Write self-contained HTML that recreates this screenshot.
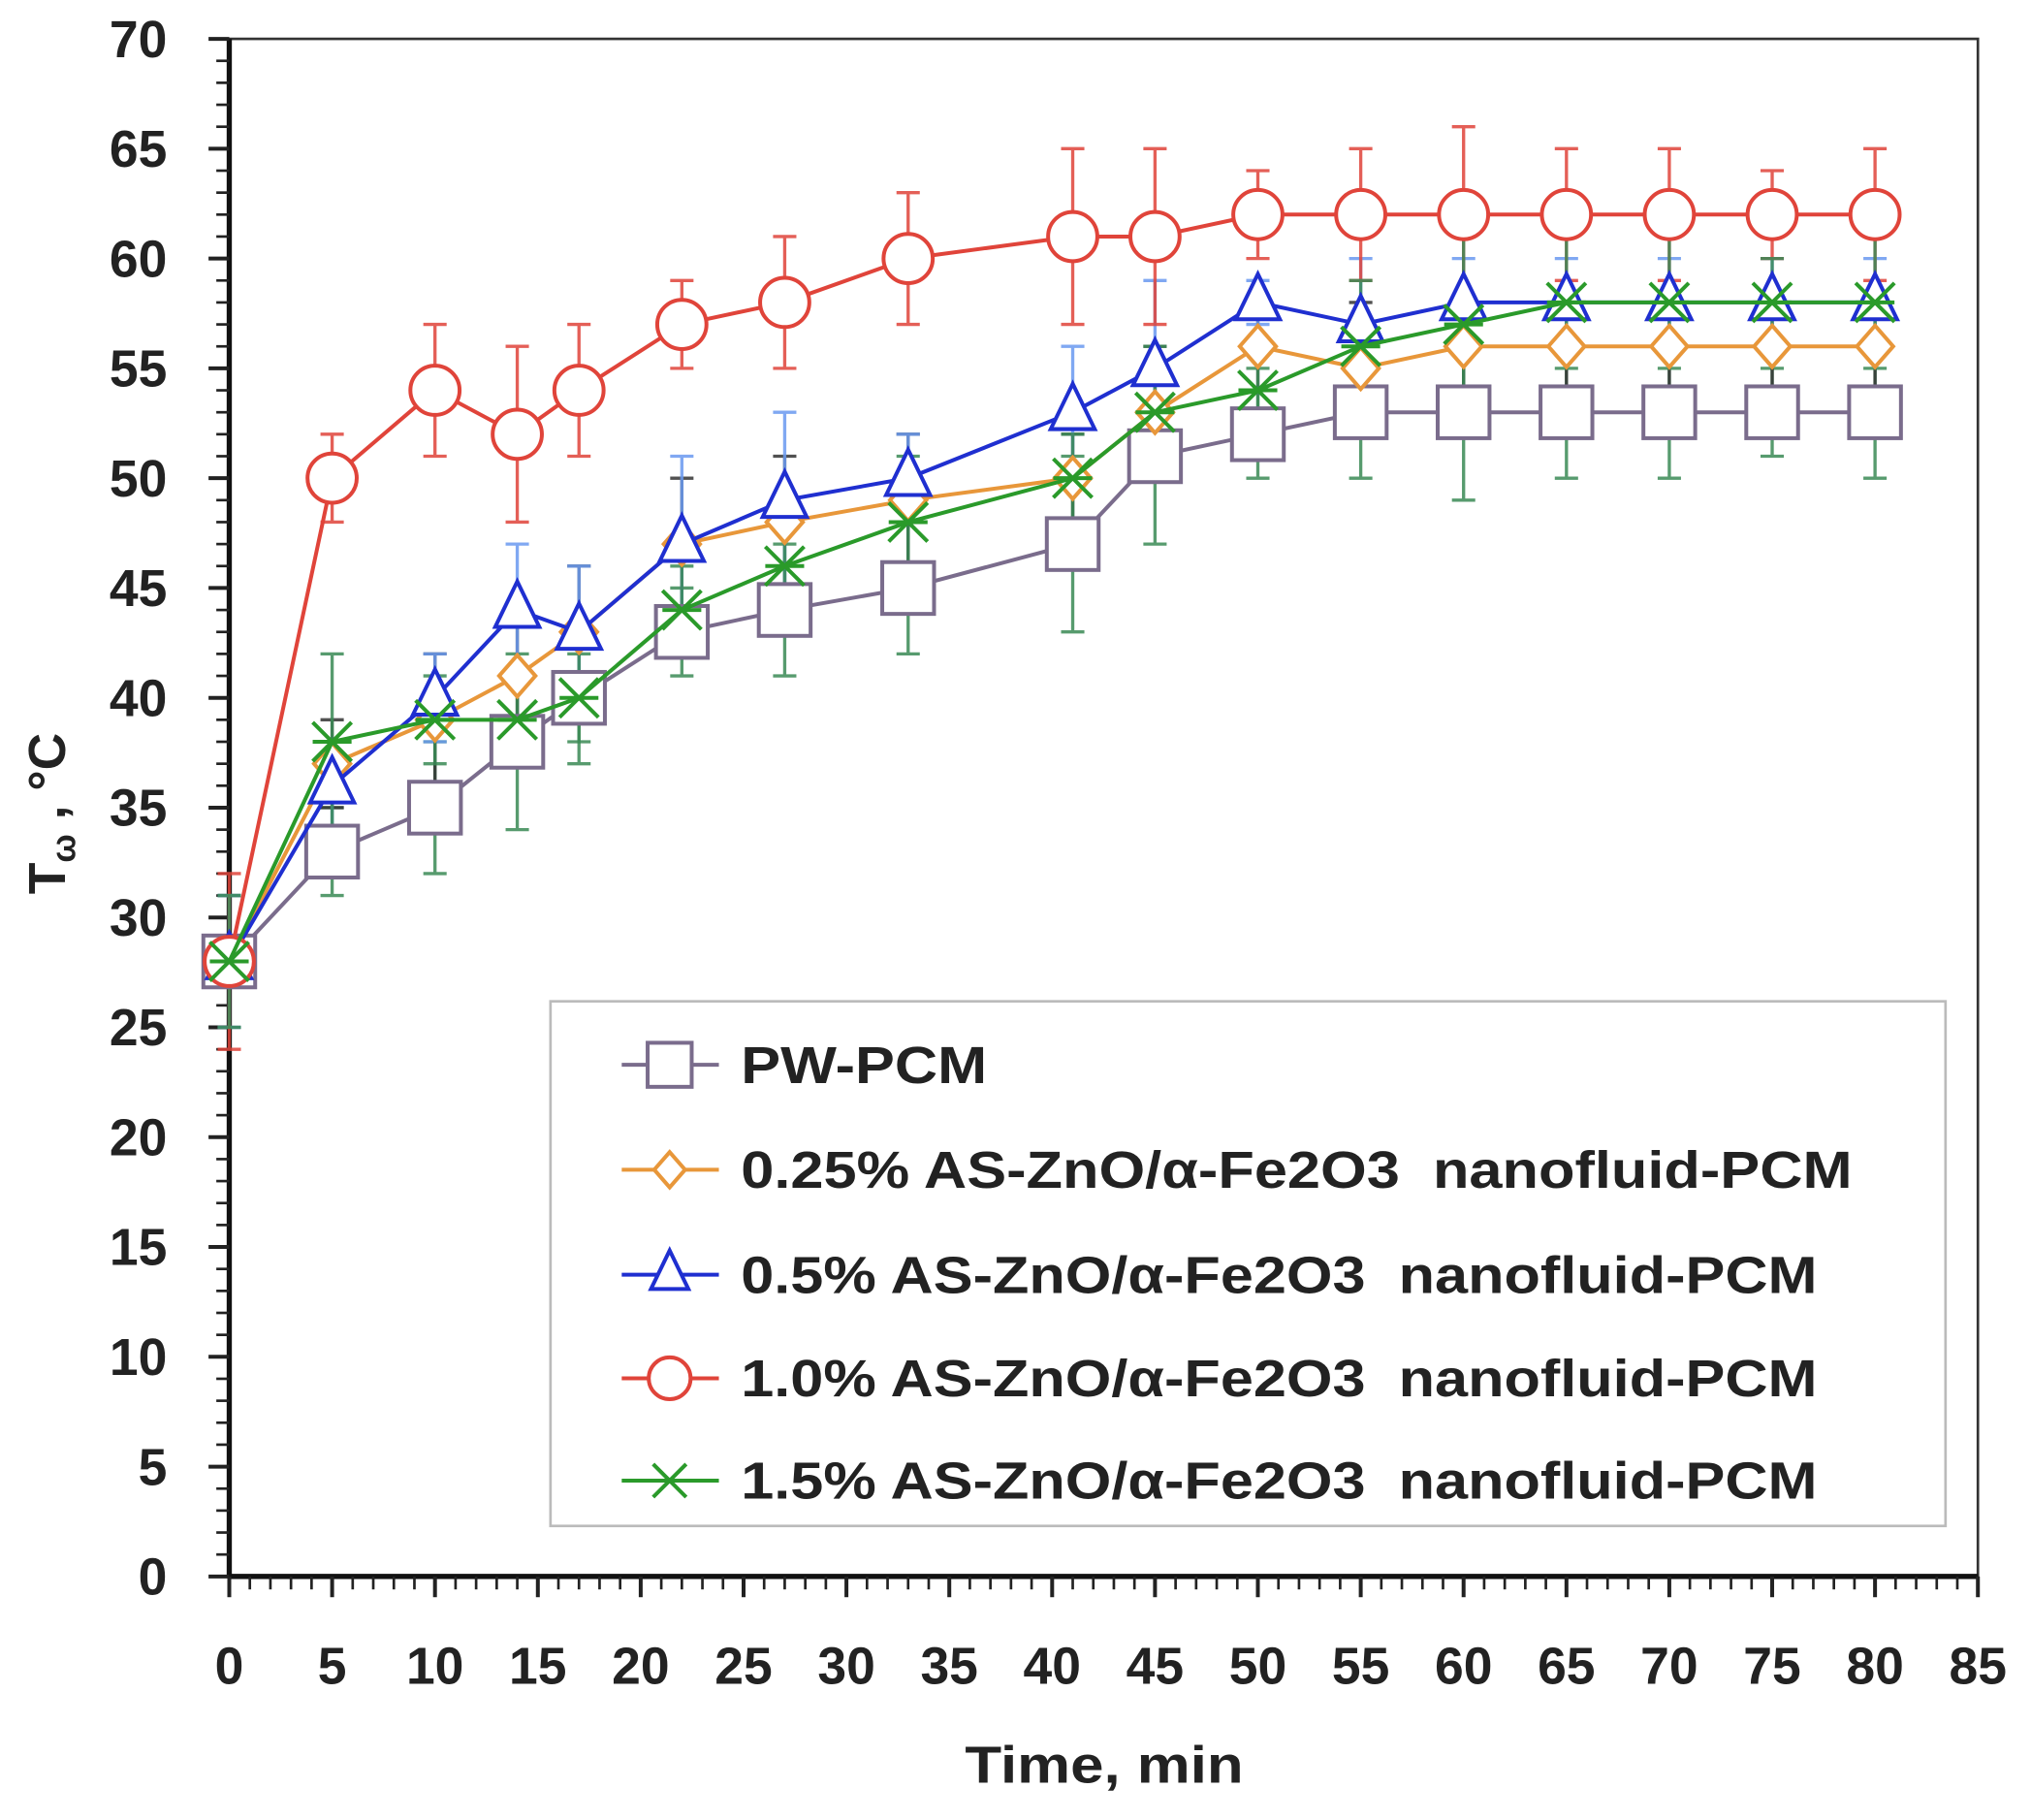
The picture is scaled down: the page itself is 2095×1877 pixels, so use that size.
<!DOCTYPE html>
<html><head><meta charset="utf-8"><style>
html,body{margin:0;padding:0;background:#fff;}
svg{display:block;}
text{font-family:"Liberation Sans","DejaVu Sans",sans-serif;font-weight:bold;fill:#222;}
</style></head><body>
<svg id="s" width="2095" height="1877" viewBox="0 0 1568 1405" preserveAspectRatio="none" xmlns="http://www.w3.org/2000/svg">
<rect width="1568" height="1405" fill="#fff"/>
<g id="g"></g>
<text x="745" y="1376" font-size="40" textLength="215" lengthAdjust="spacingAndGlyphs">Time, min</text>
<text transform="translate(50,628) rotate(-90)" font-size="40" text-anchor="middle">T<tspan font-size="26" dy="8">ω</tspan><tspan dy="-8"> , °C</tspan></text>
</svg>
<script>
const L=177,R=1527,T=30,B=1217;
const X=v=>L+v*(R-L)/85, Y=v=>B-v*(B-T)/70;
let h='';
h+=`<rect x="${L}" y="${T}" width="${R-L}" height="${B-T}" fill="none" stroke="#333" stroke-width="2"/>`;
h+=`<line x1="${L}" y1="${T}" x2="${L}" y2="${B}" stroke="#111" stroke-width="4"/>`;
h+=`<line x1="${L}" y1="${B}" x2="${R}" y2="${B}" stroke="#111" stroke-width="4"/>`;
for(let v=0;v<=70;v++){const y=Y(v);const maj=v%5==0;h+=`<line x1="${L-(maj?16:10)}" y1="${y}" x2="${L}" y2="${y}" stroke="#222" stroke-width="${maj?3:2}"/>`;
 if(maj)h+=`<text x="${L-48}" y="${y+14}" font-size="40" text-anchor="end">${v}</text>`;}
for(let v=0;v<=85;v++){const x=X(v);const maj=v%5==0;h+=`<line x1="${x}" y1="${B}" x2="${x}" y2="${B+(maj?16:10)}" stroke="#222" stroke-width="${maj?3:2}"/>`;
 if(maj)h+=`<text x="${x}" y="${B+83}" font-size="40" text-anchor="middle">${v}</text>`;}
const xs=[0,5,10,14,17,22,27,33,41,45,50,55,60,65,70,75,80];
const S=[
 {c:'#7a6c8c',e:'#3a8a55',m:'sq',d:[28,33,35,38,40,43,44,45,47,51,52,53,53,53,53,53,53],er:[3,2,3,4,3,2,3,3,4,4,2,3,4,3,3,2,3]},
 {c:'#e8973a',e:'#333',m:'di',d:[28,37,39,41,43,47,48,49,50,53,56,55,56,56,56,56,56],er:[3,2,3,3,3,3,3,3,2,3,2,3,2,2,2,2,2]},
 {c:'#1f2fd0',e:'#6a9af0',m:'tr',d:[28,36,40,44,43,47,49,50,53,55,58,57,58,58,58,58,58],er:[3,2,2,3,3,4,4,2,3,4,1,3,2,2,2,2,2]},
 {c:'#e0443a',e:'#e0443a',m:'ci',d:[28,50,54,52,54,57,58,60,61,61,62,62,62,62,62,62,62],er:[4,2,3,4,3,2,3,3,4,4,2,3,4,3,3,2,3]},
 {c:'#2a9a2a',e:'#3a8a55',m:'x',d:[28,38,39,39,40,44,46,48,50,53,54,56,57,58,58,58,58],er:[3,4,2,2,2,2,3,3,2,3,1,3,4,3,3,2,3]}
];
function mk(m,x,y,c,k){k=k||1;
 if(m=='sq'){const a=20*k;return `<rect x="${x-a}" y="${y-a}" width="${2*a}" height="${2*a}" fill="#fff" stroke="${c}" stroke-width="3"/>`;}
 if(m=='di')return `<polygon points="${x},${y-16*k} ${x+14*k},${y} ${x},${y+16*k} ${x-14*k},${y}" fill="#fff" stroke="${c}" stroke-width="3"/>`;
 if(m=='tr')return `<polygon points="${x},${y-22*k} ${x+17*k},${y+13*k} ${x-17*k},${y+13*k}" fill="#fff" stroke="${c}" stroke-width="3"/>`;
 if(m=='ci')return `<circle cx="${x}" cy="${y}" r="${19*k}" fill="#fff" stroke="${c}" stroke-width="3"/>`;
 const a=15*k;return `<path d="M${x-a},${y-a}L${x+a},${y+a}M${x-a},${y+a}L${x+a},${y-a}M${x-a},${y}H${x+a}" stroke="${c}" stroke-width="3"/>`;
}
for(const s of S){
 for(let i=0;i<xs.length;i++){const x=X(xs[i]),y1=Y(s.d[i]+s.er[i]),y2=Y(s.d[i]-s.er[i]);
  h+=`<path d="M${x},${y1}V${y2}M${x-9},${y1}H${x+9}M${x-9},${y2}H${x+9}" stroke="${s.e}" stroke-width="2.5" opacity="0.85"/>`;}
}
for(const s of S){
 h+=`<polyline fill="none" stroke="${s.c}" stroke-width="3" points="${xs.map((v,i)=>X(v)+','+Y(s.d[i])).join(' ')}"/>`;
 for(let i=0;i<xs.length;i++)h+=mk(s.m,X(xs[i]),Y(s.d[i]),s.c);
}
h+=`<rect x="425" y="773" width="1077" height="405" fill="#fff" stroke="#bbb" stroke-width="2"/>`;
const lab=['PW-PCM','0.25% AS-ZnO/α-Fe2O3  nanofluid-PCM','0.5% AS-ZnO/α-Fe2O3  nanofluid-PCM','1.0% AS-ZnO/α-Fe2O3  nanofluid-PCM','1.5% AS-ZnO/α-Fe2O3  nanofluid-PCM'];
const lw=[190,858,831,831,831];
const ly=[822,903,984,1064,1143];
S.forEach((s,i)=>{const y=ly[i];h+=`<line x1="480" y1="${y}" x2="555" y2="${y}" stroke="${s.c}" stroke-width="3"/>`+mk(s.m,517,y,s.c,0.85);
 h+=`<text x="572" y="${y+14}" font-size="40" textLength="${lw[i]}" lengthAdjust="spacingAndGlyphs" xml:space="preserve">${lab[i]}</text>`;});
document.getElementById('g').innerHTML=h;
</script>
</body></html>
